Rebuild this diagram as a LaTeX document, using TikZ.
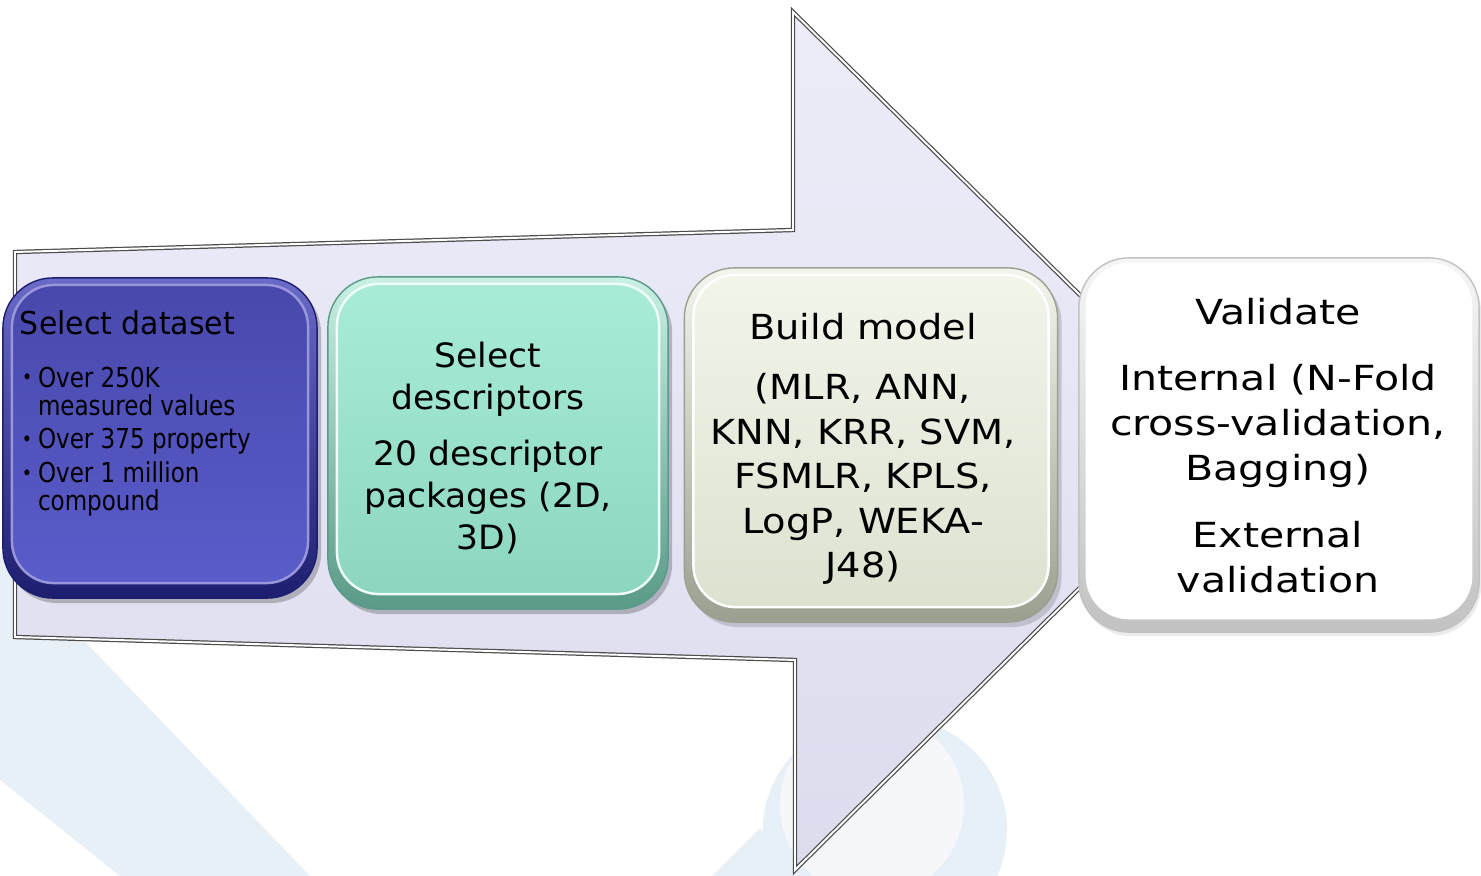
\documentclass[tikz,border=0pt]{standalone}
\usepackage{fontspec}
\setmainfont{DejaVu Sans}
\newfontfamily\fT[FakeStretch=0.95]{DejaVu Sans}
\newfontfamily\fB[FakeStretch=0.84]{DejaVu Sans}
\newfontfamily\fC[FakeStretch=1.03]{DejaVu Sans}
\newfontfamily\fD[FakeStretch=1.11]{DejaVu Sans}
\newfontfamily\fE[FakeStretch=1.19]{DejaVu Sans}
\definecolor{wm}{HTML}{E8F0F7}
\definecolor{wmin}{HTML}{F5F7FA}
\definecolor{arrT}{HTML}{EDEDF9}
\definecolor{arrB}{HTML}{DCDCEE}
\definecolor{rimAa}{HTML}{6A6AC8}
\definecolor{rimBa}{HTML}{1E1E70}
\definecolor{faceAa}{HTML}{4848AC}
\definecolor{faceBa}{HTML}{5A5CCA}
\definecolor{rimAb}{HTML}{C8F0E4}
\definecolor{rimBb}{HTML}{5A9A88}
\definecolor{faceAb}{HTML}{A8ECD8}
\definecolor{faceBb}{HTML}{8CD6C0}
\definecolor{rimAc}{HTML}{F4F6EE}
\definecolor{rimBc}{HTML}{9AA090}
\definecolor{faceAc}{HTML}{F2F5EA}
\definecolor{faceBc}{HTML}{DCE2D0}
\definecolor{rimAd}{HTML}{F6F6F6}
\definecolor{rimBd}{HTML}{C2C2C2}
\newcommand{\bul}{\raisebox{0.15ex}{\scalebox{0.75}{•}}}
\tikzset{
  rim/.style={rectangle, rounded corners=0.5cm, inner sep=0pt, outer sep=0pt},
  face/.style={rectangle, rounded corners=0.42cm, inner sep=0pt, outer sep=0pt, line width=0.7pt},
  shadowbox/.style={rectangle, rounded corners=0.5cm, inner sep=0pt, fill=black, opacity=0.22},
  txt/.style={inner sep=0pt, outer sep=0pt, text=black},
  arrowedge/.style={draw=gray!60!black, double=white, double distance=0.55pt, line width=0.35pt, line join=miter}
}
\begin{document}
\begin{tikzpicture}[x=0.01cm,y=-0.01cm]
\useasboundingbox (0,0) rectangle (1481,876);
\fill[white] (0,0) rectangle (1481,876);
% faint watermark
\fill[wm] (0,553) -- (310,876) -- (120,876) -- (0,780) -- cycle;
\fill[wm] (885,830) ellipse [x radius=1.22cm, y radius=1.15cm];
\fill[wmin] (872,805) circle [radius=0.92cm];
\fill[wm] (712,876) -- (760,828) -- (796,876) -- cycle;
% big arrow
\path[top color=arrT, bottom color=arrB]
  (15,252) -- (793,230) -- (793,12) -- (1228,441) -- (795,870) -- (795,660) -- (15,637) -- cycle;
\draw[arrowedge]
  (15,252) -- (793,230) -- (793,12) -- (1228,441) -- (795,870) -- (795,660) -- (15,637) -- cycle;
% box 1
\node[shadowbox, minimum width=3.14cm, minimum height=3.2cm] (s1) at (164,443) {};
\node[rim, minimum width=3.14cm, minimum height=3.2cm, top color=rimAa, bottom color=rimBa, draw=rimBa] (b1) at (160,438) {};
\node[face, minimum width=2.96cm, minimum height=2.98cm, top color=faceAa, bottom color=faceBa, draw=rimAa!70!white] (f1) at (160,434) {};
% box 2
\node[shadowbox, minimum width=3.4cm, minimum height=3.32cm] (s2) at (502,448) {};
\node[rim, minimum width=3.4cm, minimum height=3.32cm, top color=rimAb, bottom color=rimBb, draw=rimBb] (b2) at (498,443) {};
\node[face, minimum width=3.22cm, minimum height=3.10cm, top color=faceAb, bottom color=faceBb, draw=white!80!faceAb] (f2) at (498,439) {};
% box 3
\node[shadowbox, minimum width=3.73cm, minimum height=3.54cm, opacity=0.15] (s3) at (875,450) {};
\node[rim, minimum width=3.73cm, minimum height=3.54cm, top color=rimAc, bottom color=rimBc, draw=rimBc] (b3) at (871,445) {};
\node[face, minimum width=3.55cm, minimum height=3.32cm, top color=faceAc, bottom color=faceBc, draw=white] (f3) at (871,441) {};
% box 4
\node[shadowbox, minimum width=4.0cm, minimum height=3.74cm, opacity=0.08] (s4) at (1281,449) {};
\node[rim, minimum width=4.0cm, minimum height=3.74cm, top color=rimAd, bottom color=rimBd, draw=rimBd] (b4) at (1279,445) {};
\node[face, minimum width=3.84cm, minimum height=3.54cm, fill=white, draw=white] (f4) at (1279,441) {};
% texts
\node[txt, anchor=base west] (t1) at (20,335) {\fT\fontsize{8.96}{10}\selectfont Select dataset};
\node[txt, anchor=base west] (t1b) at (22,387) {\parbox[t]{2.9cm}{\fB\fontsize{7.8}{8.0}\selectfont
  \hangindent=0.16cm\hangafter=1\noindent\makebox[0.16cm][l]{\bul}Over 250K\newline measured values\par\vspace{1.6pt}
  \hangindent=0.16cm\hangafter=1\noindent\makebox[0.16cm][l]{\bul}Over 375 property\par\vspace{1.6pt}
  \hangindent=0.16cm\hangafter=1\noindent\makebox[0.16cm][l]{\bul}Over 1 million\newline compound}};
\node[txt, anchor=base] (t2) at (488,367) {\parbox[t]{3.2cm}{\centering\fC\fontsize{9.53}{11.95}\selectfont
  Select\\descriptors\par\vspace{4pt}
  20 descriptor\\packages (2D,\\3D)}};
\node[txt, anchor=base] (t3) at (863,340) {\parbox[t]{3.6cm}{\centering\fD\fontsize{9.82}{12.66}\selectfont
  Build model\par\vspace{4.3pt}
  (MLR, ANN,\\KNN, KRR, SVM,\\FSMLR, KPLS,\\LogP, WEKA-\\J48)}};
\node[txt, anchor=base] (t4) at (1278,325) {\parbox[t]{3.9cm}{\centering\fE\fontsize{9.82}{12.8}\selectfont
  Validate\par\vspace{5.7pt}
  Internal (N-Fold\\cross-validation,\\Bagging)\par\vspace{6.3pt}
  External\\validation}};
\end{tikzpicture}
\end{document}
